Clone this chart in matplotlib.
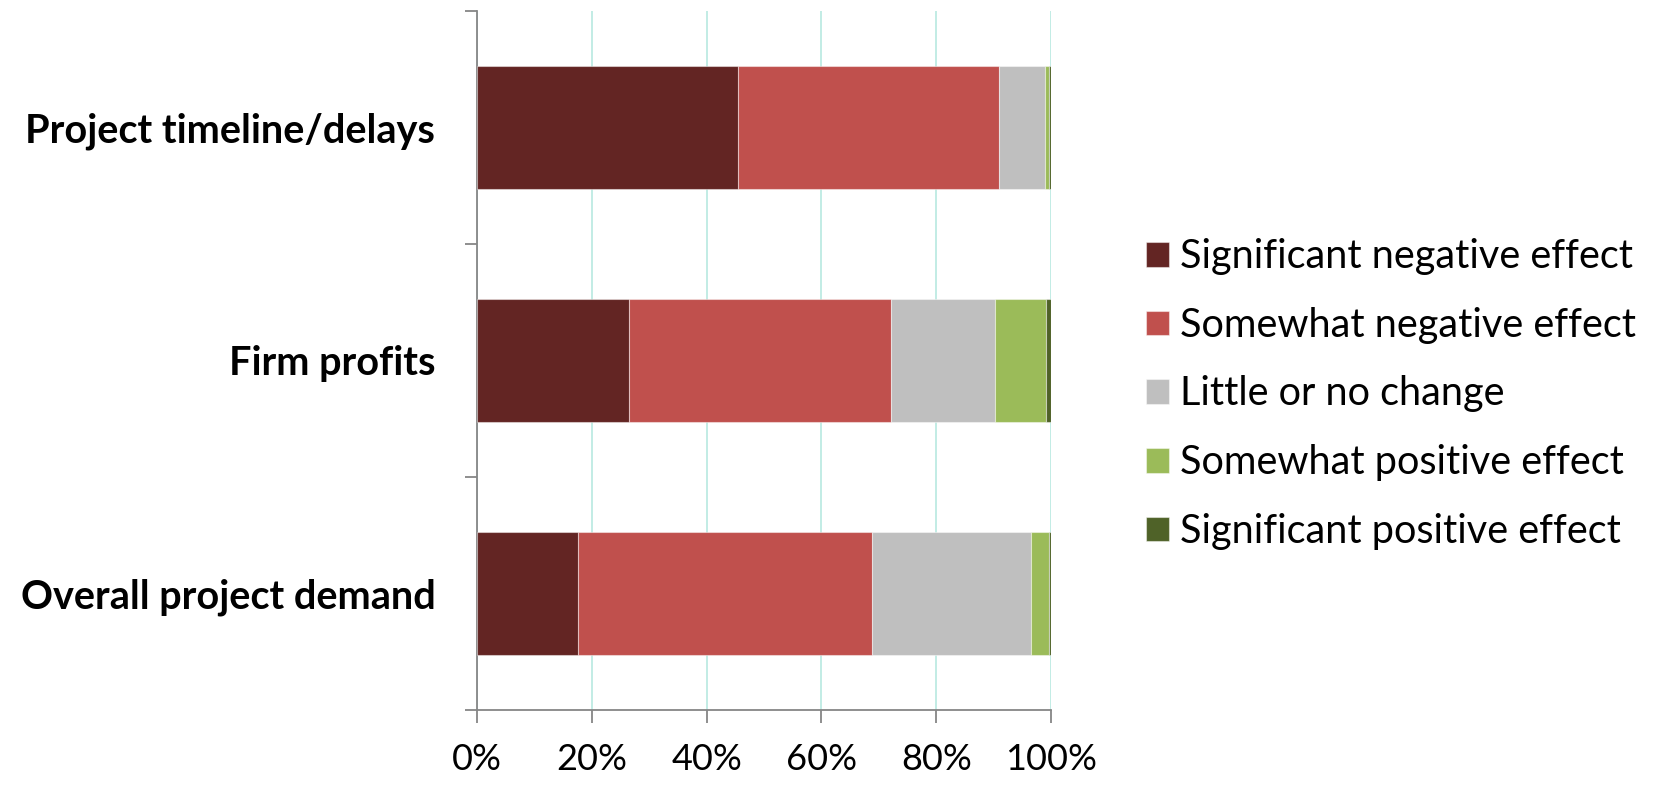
import matplotlib
matplotlib.use("Agg")
import matplotlib.pyplot as plt
from matplotlib.ticker import FixedLocator, PercentFormatter

# survey: effect on each area, share of responses (%)
categories = ["Overall project demand", "Firm profits", "Project timeline/delays"]
effects = ["Significant negative effect", "Somewhat negative effect",
           "Little or no change", "Somewhat positive effect",
           "Significant positive effect"]
sig_neg = [17.6, 26.4, 45.5]
some_neg = [51.3, 45.7, 45.5]
no_change = [27.6, 18.2, 7.9]
some_pos = [3.2, 8.8, 0.7]
sig_pos = [0.3, 0.9, 0.4]
colors = ["#632523", "#C0504D", "#BFBFBF", "#9BBB59", "#4F6228"]

plt.rcParams["font.family"] = ["Lato", "DejaVu Sans"]

fig = plt.figure(figsize=(16.65, 7.85), dpi=100)
ax = fig.add_axes([477 / 1665, 1 - 710 / 785, 574 / 1665, 699 / 785])

ypos = list(range(len(categories)))
left = [0.0] * len(categories)
for vals, col, name in zip([sig_neg, some_neg, no_change, some_pos, sig_pos], colors, effects):
    frac = [v / 100 for v in vals]
    ax.barh(ypos, frac, left=left, height=0.53, color=col, label=name,
            edgecolor=(1, 1, 1, 0.45), linewidth=0.8, zorder=3)
    left = [a + b for a, b in zip(left, frac)]

ax.set_xlim(0, 1)
ax.set_ylim(-0.5, len(categories) - 0.5)

# x axis
ax.set_xticks([0, 0.2, 0.4, 0.6, 0.8, 1.0])
ax.xaxis.set_major_formatter(PercentFormatter(1.0, decimals=0))
ax.tick_params(axis="x", direction="out", length=9, width=1.3, color="#868686",
               labelsize=26, pad=15)
ax.grid(axis="x", color="#BDEBE3", linewidth=1.3, zorder=0)

# y axis: ticks between categories, labels at centers
ax.yaxis.set_major_locator(FixedLocator([-0.5, 0.5, 1.5, 2.5]))
ax.yaxis.set_minor_locator(FixedLocator(ypos))
ax.set_yticklabels([], minor=False)
ax.set_yticklabels(categories, minor=True, fontweight="bold")
ax.tick_params(axis="y", which="major", direction="out", length=9, width=1.3, color="#868686")
ax.tick_params(axis="y", which="minor", length=0, labelsize=28.5, pad=30)

for s in ["top", "right"]:
    ax.spines[s].set_visible(False)
for s in ["left", "bottom"]:
    ax.spines[s].set_color("#868686")
    ax.spines[s].set_linewidth(1.3)

fig.legend(loc="center left", bbox_to_anchor=(1146 / 1665, 1 - 394 / 785),
           frameon=False, fontsize=28.5, handlelength=0.58, handleheight=0.58,
           handletextpad=0.28, labelspacing=0.8, borderaxespad=0, borderpad=0)

fig.savefig("out.png", dpi=100)
